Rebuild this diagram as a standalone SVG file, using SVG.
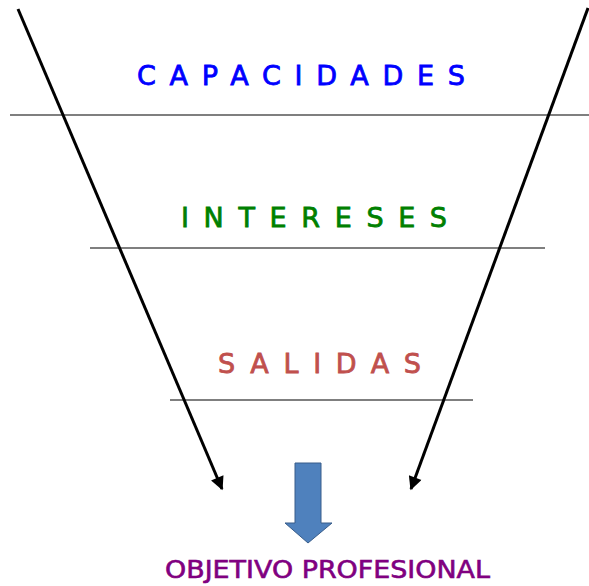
<svg xmlns="http://www.w3.org/2000/svg" width="589" height="586" viewBox="0 0 589 586">
<style>
.lbl{font-family:"DejaVu Sans","Liberation Sans",sans-serif;font-size:27px;stroke-width:0.8}
.hl{stroke:#555;stroke-width:1.5}
.arr{stroke:#000;stroke-width:3;fill:none}
</style>
<defs>
<marker id="ah" viewBox="0 0 10 10" refX="9" refY="5" markerWidth="5" markerHeight="4.5" orient="auto" markerUnits="strokeWidth">
<path d="M0,0 L10,5 L0,10 z" fill="#000"/>
</marker>
</defs>
<rect width="589" height="586" fill="#fff"/>
<g id="lines">
<line class="hl" x1="10" y1="115" x2="589" y2="115"/>
<line class="hl" x1="90" y1="248" x2="545" y2="248"/>
<line class="hl" x1="170" y1="400" x2="473" y2="400"/>
</g>
<g id="connectors">
<line class="arr" x1="18" y1="9" x2="222" y2="489" marker-end="url(#ah)"/>
<line class="arr" x1="588" y1="8" x2="411" y2="489" marker-end="url(#ah)"/>
</g>
<g id="capacidades"><text class="lbl" x="137" y="85" fill="#0000FF" stroke="#0000FF" textLength="328" lengthAdjust="spacing">CAPACIDADES</text></g>
<g id="intereses"><text class="lbl" x="181" y="227" fill="#008000" stroke="#008000" textLength="266" lengthAdjust="spacing">INTERESES</text></g>
<g id="salidas"><text class="lbl" x="218" y="373" fill="#C0504D" stroke="#C0504D" textLength="203" lengthAdjust="spacing">SALIDAS</text></g>
<g id="down-arrow">
<path d="M295,463 L321,463 L321,523 L332,523 L308,543 L285,523 L295,523 Z" fill="#4F81BD" stroke="#385D8A" stroke-width="1"/>
</g>
<g id="objetivo"><text x="165" y="578" fill="#800080" stroke="#800080" stroke-width="0.6" font-family="DejaVu Sans,Liberation Sans,sans-serif" font-size="24" textLength="325" lengthAdjust="spacingAndGlyphs">OBJETIVO PROFESIONAL</text></g>
</svg>
